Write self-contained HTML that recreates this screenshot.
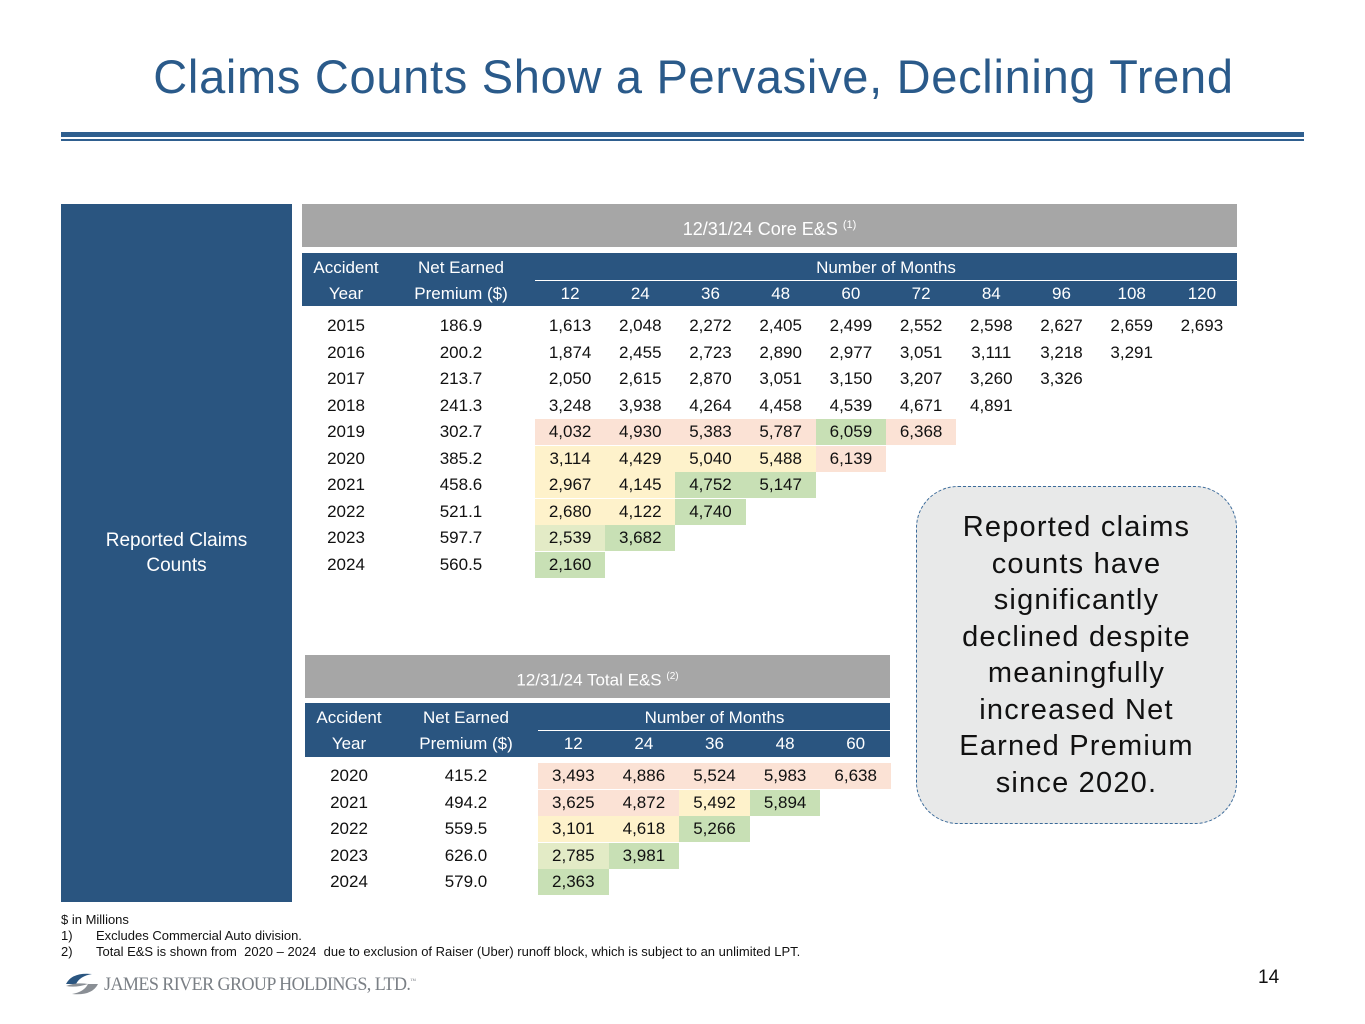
<!DOCTYPE html>
<html><head><meta charset="utf-8">
<style>
body{margin:0;width:1365px;height:1024px;background:#fff;position:relative;overflow:hidden;font-family:"Liberation Sans",sans-serif}
.a{position:absolute}
.c{position:absolute;text-align:center;font-size:17px;color:#111;line-height:26px}
.h{position:absolute;text-align:center;font-size:17px;color:#fff;line-height:26px}
</style></head><body>
<div class="a" style="left:0;width:1387px;top:50px;text-align:center;font-size:47px;letter-spacing:0.7px;color:#2A5A8A;line-height:54px">Claims Counts Show a Pervasive, Declining Trend</div>
<div class="a" style="left:61px;top:132px;width:1243px;height:5px;background:#2F5F8F"></div>
<div class="a" style="left:61px;top:139px;width:1243px;height:2px;background:#2F5F8F"></div>
<div class="a" style="left:61px;top:204px;width:231px;height:698px;background:#2A5580;color:#fff;font-size:19px;display:flex;align-items:center;justify-content:center;text-align:center;line-height:25px">Reported Claims<br>Counts</div>

<div class="a" style="left:302px;top:204px;width:935px;height:43px;background:#A6A6A6;color:#fff;font-size:18px;text-align:center;line-height:43px">12/31/24 Core E&amp;S <sup style="font-size:11px">(1)</sup></div>
<div class="a" style="left:302px;top:253px;width:935px;height:53px;background:#2A5580"></div>
<div class="a" style="left:535px;top:280px;width:702px;height:1px;background:#fff"></div>

<div class="a" style="left:305px;top:655px;width:585px;height:43px;background:#A6A6A6;color:#fff;font-size:17px;text-align:center;line-height:43px">12/31/24 Total E&amp;S <sup style="font-size:10px">(2)</sup></div>
<div class="a" style="left:305px;top:703px;width:585px;height:54px;background:#2A5580"></div>
<div class="a" style="left:538px;top:730px;width:352px;height:1px;background:#fff"></div>

<div class="a" style="left:916px;top:486px;width:319px;height:336px;border:1.5px dashed #3A6A9A;border-radius:42px;background:#E8E9E9;display:flex;align-items:center;justify-content:center;text-align:center;font-size:29px;letter-spacing:1.2px;line-height:36.5px;color:#111">Reported claims<br>counts have<br>significantly<br>declined despite<br>meaningfully<br>increased Net<br>Earned Premium<br>since 2020.</div>

<div class="a" style="left:61px;top:912px;font-size:13px;line-height:16px;color:#111;white-space:nowrap">$ in Millions<br><span style="display:inline-block;width:35px">1)</span>Excludes Commercial Auto division.<br><span style="display:inline-block;width:35px">2)</span>Total E&amp;S is shown from &nbsp;2020 – 2024 &nbsp;due to exclusion of Raiser (Uber) runoff block, which is subject to an unlimited LPT.</div>
<div class="a" style="left:62px;top:970px;width:40px;height:28px">
<svg width="40" height="28"><path d="M4 14 Q10 2 30 4 Q18 6 14 14 Z" fill="#2A5580"/><path d="M36 14 Q30 26 10 24 Q22 22 26 14 Z" fill="#8A8F95"/><path d="M4 16 Q14 12 26 14 Q14 18 4 16Z" fill="#8A8F95"/></svg></div>
<div class="a" style="left:104px;top:974px;font-family:'Liberation Serif',serif;font-size:19px;color:#7A7F85;letter-spacing:-0.6px;transform:scaleX(0.95);transform-origin:0 0;white-space:nowrap">JAMES RIVER GROUP HOLDINGS, LTD.<sup style="font-size:6px">™</sup></div>
<div class="a" style="left:1258px;top:967px;font-size:19px;color:#111">14</div>

<script>
// Core E&S data
const coreYears=[2015,2016,2017,2018,2019,2020,2021,2022,2023,2024];
const corePremium=["186.9","200.2","213.7","241.3","302.7","385.2","458.6","521.1","597.7","560.5"];
const coreMonths=[12,24,36,48,60,72,84,96,108,120];
const coreCounts=[
[1613,2048,2272,2405,2499,2552,2598,2627,2659,2693],
[1874,2455,2723,2890,2977,3051,3111,3218,3291],
[2050,2615,2870,3051,3150,3207,3260,3326],
[3248,3938,4264,4458,4539,4671,4891],
[4032,4930,5383,5787,6059,6368],
[3114,4429,5040,5488,6139],
[2967,4145,4752,5147],
[2680,4122,4740],
[2539,3682],
[2160]];
const coreShade=["","","","","rrrrgr","yyyyr","yygg","yyg","lg","g"];
// Total E&S data
const totYears=[2020,2021,2022,2023,2024];
const totPremium=["415.2","494.2","559.5","626.0","579.0"];
const totMonths=[12,24,36,48,60];
const totCounts=[[3493,4886,5524,5983,6638],[3625,4872,5492,5894],[3101,4618,5266],[2785,3981],[2363]];
const totShade=["rrrrr","rryg","yyg","lg","g"];

const colors={r:"#FBE2D5",y:"#FEF2CB",g:"#C8E0B5",l:"#E3EBC6"};
const fmt=v=>v.toLocaleString("en-US");
function add(cls,x,y,w,txt,name,bg){
  const d=document.createElement("div");
  d.className=cls;
  d.style.left=x+"px";d.style.top=y+"px";d.style.width=w+"px";
  if(bg)d.style.background=bg;
  d.textContent=txt;
  
  
  document.body.appendChild(d);
}
function table(cfg){
  const colX=i=>cfg.cellX+i*cfg.step;
  const rowY=j=>cfg.rowY+j*cfg.rowStep;
  add("h",cfg.yearX-50,cfg.hy1,100,"Accident","header-accident");
  add("h",cfg.yearX-50,cfg.hy2,100,"Year","header-year");
  add("h",cfg.premX-70,cfg.hy1,140,"Net Earned","header-net-earned");
  add("h",cfg.premX-70,cfg.hy2,140,"Premium ($)","header-premium");
  add("h",cfg.cellX,cfg.hy1,cfg.step*cfg.months.length,"Number of Months","header-number-of-months");
  cfg.months.forEach((m,i)=>add("h",colX(i),cfg.hy2,cfg.step,m,"month-"+m));
  cfg.years.forEach((yr,j)=>{
    add("c",cfg.yearX-50,rowY(j),100,yr,"year-"+yr);
    add("c",cfg.premX-70,rowY(j),140,cfg.prem[j],"premium-"+yr);
    cfg.counts[j].forEach((v,i)=>{
      const s=cfg.shade[j][i];
      add("c",colX(i),rowY(j),cfg.step,fmt(v),"cell-"+yr+"-"+cfg.months[i],s?colors[s]:null);
    });
  });
}
table({years:coreYears,prem:corePremium,months:coreMonths,counts:coreCounts,shade:coreShade,
  yearX:346,premX:461,cellX:535,step:70.2,rowY:313,rowStep:26.5,hy1:255,hy2:281});
table({years:totYears,prem:totPremium,months:totMonths,counts:totCounts,shade:totShade,
  yearX:349,premX:466,cellX:538,step:70.6,rowY:763,rowStep:26.6,hy1:705,hy2:731});
</script>
</body></html>
